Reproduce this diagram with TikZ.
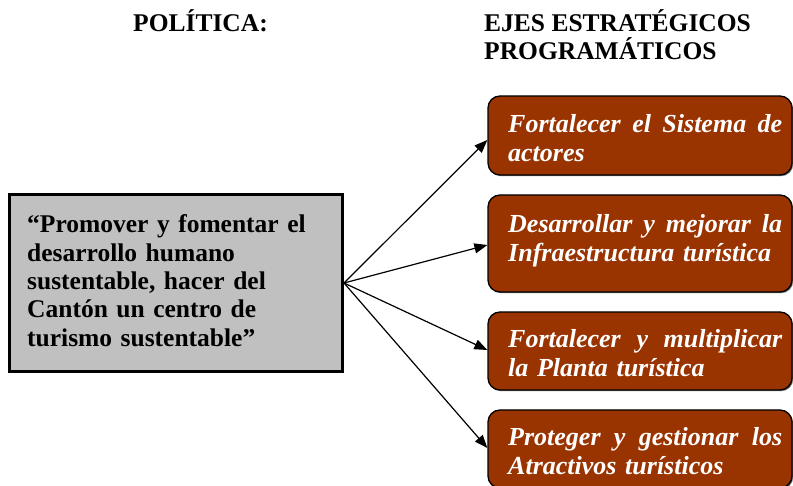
\documentclass[tikz,border=0pt]{standalone}
\usepackage{fontspec}
\setmainfont{Liberation Serif}
\usetikzlibrary{arrows.meta,shadows}
\definecolor{boxbrown}{HTML}{993300}
\definecolor{polgray}{HTML}{C0C0C0}
\begin{document}
\begin{tikzpicture}[x=1pt,y=-1pt,
  title/.style={font=\fontsize{25.5}{28}\selectfont\bfseries, inner sep=0pt, anchor=base west},
  polbox/.style={draw=black, line width=3pt, fill=polgray, minimum width=333pt, minimum height=177pt, inner sep=0pt},
  poltext/.style={font=\fontsize{25.5}{28.3}\selectfont\bfseries, text width=300pt, align=left, inner sep=0pt, anchor=base west},
  ejebox/.style={draw=black, line width=1.3pt, fill=boxbrown, rounded corners=12pt, minimum width=304pt, inner sep=0pt,
     drop shadow={shadow xshift=1.2pt, shadow yshift=-1.2pt, fill=black!55, opacity=1}},
  ejetext/.style={font=\fontsize{26}{29}\selectfont\bfseries\itshape, text=white, text width=274pt, align=left, inner sep=0pt, anchor=base west},
  link/.style={line width=1.2pt, -{Triangle[length=13pt,width=10pt]}}]
\useasboundingbox (0,0) rectangle (793,486);

% titles
\node[title] (tpol) at (133,32) {POLÍTICA:};
\node[title] (teje1) at (484,32) {EJES ESTRATÉGICOS};
\node[title] (teje2) at (484,60) {PROGRAMÁTICOS};

% policy box
\node[polbox] (pol) at (176,283) {};
\node[poltext] (poltxt) at (27,233) {“Promover y fomentar el\\desarrollo humano\\sustentable, hacer del\\Cantón un centro de\\turismo sustentable”};

% strategic axes
\node[ejebox, minimum height=79pt] (e1) at (640,135.5) {};
\node[ejetext] (e1t) at (508,133) {Fortalecer\hfill el\hfill Sistema\hfill de\\actores};

\node[ejebox, minimum height=97pt] (e2) at (640,243.5) {};
\node[ejetext] (e2t) at (508,233) {Desarrollar\hfill y\hfill mejorar\hfill la\\Infraestructura turística};

\node[ejebox, minimum height=78pt] (e3) at (640,351) {};
\node[ejetext] (e3t) at (508,348) {Fortalecer\hfill y\hfill multiplicar\\la Planta turística};

\node[ejebox, minimum height=78pt] (e4) at (640,449) {};
\node[ejetext] (e4t) at (508,445) {Proteger\hfill y\hfill gestionar\hfill los\\Atractivos turísticos};

% connectors
\draw[link] (pol.east) -- ([yshift=-4.5pt]e1.west);
\draw[link] (pol.east) -- ([yshift=-1.5pt]e2.west);
\draw[link] (pol.east) -- ([yshift=1pt]e3.west);
\draw[link] (pol.east) -- ([yshift=1pt]e4.west);
\end{tikzpicture}
\end{document}
